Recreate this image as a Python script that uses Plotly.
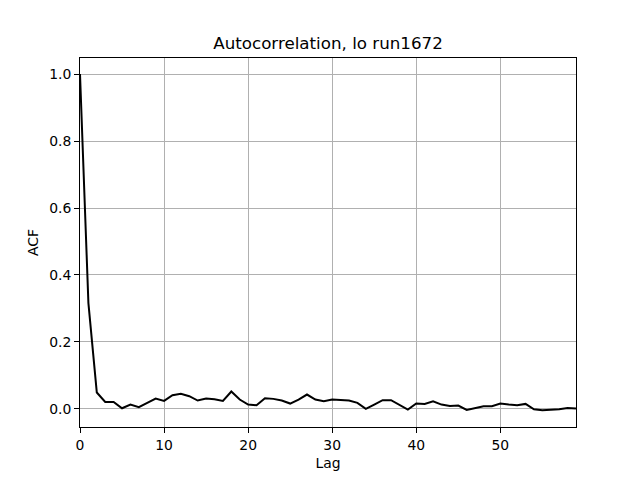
import plotly.graph_objects as go

lags = list(range(60))
acf = [1.0, 0.316, 0.049, 0.021, 0.021, 0.002, 0.013, 0.005, 0.018, 0.031,
       0.024, 0.041, 0.045, 0.038, 0.025, 0.031, 0.029, 0.024, 0.052, 0.028,
       0.013, 0.011, 0.032, 0.030, 0.025, 0.016, 0.028, 0.043, 0.028, 0.023,
       0.028, 0.027, 0.025, 0.018, 0.000, 0.013, 0.026, 0.026, 0.012, -0.002,
       0.016, 0.015, 0.023, 0.013, 0.009, 0.010, -0.003, 0.002, 0.008, 0.008,
       0.016, 0.013, 0.011, 0.015, -0.001, -0.004, -0.003, -0.001, 0.003, 0.001]
x_ticks = [0, 10, 20, 30, 40, 50]
y_ticks = [0.0, 0.2, 0.4, 0.6, 0.8, 1.0]

fig = go.Figure()
fig.add_trace(go.Scatter(x=lags, y=acf, mode="lines",
                         line=dict(color="black", width=2), showlegend=False))

axis_common = dict(showline=True, linecolor="black", linewidth=1, mirror=True,
                   ticks="outside", ticklen=5, tickwidth=1, tickcolor="black",
                   showgrid=True, gridcolor="#b0b0b0", gridwidth=1, zeroline=False,
                   automargin=False,
                   tickfont=dict(family="DejaVu Sans", size=13.9, color="black"))

# the page body adds an 8px offset; margins compensate for it
fig.update_layout(
    width=640, height=480,
    margin=dict(l=72, r=72, t=50, b=61, autoexpand=False),
    paper_bgcolor="white", plot_bgcolor="white",
    font=dict(family="DejaVu Sans", color="black"),
    title=dict(text="Autocorrelation, lo run1672", x=0.5, xanchor="center",
               y=1 - 35 / 480, yanchor="middle", automargin=False,
               font=dict(family="DejaVu Sans", size=16.7, color="black")),
    xaxis=dict(range=[0, 59], tickvals=x_ticks, ticktext=[str(t) for t in x_ticks],
               title=dict(text="Lag", font=dict(size=13.9), standoff=6), **axis_common),
    yaxis=dict(range=[-0.054, 1.048], tickvals=y_ticks,
               ticktext=[f"{t:.1f}" for t in y_ticks],
               title=dict(text="ACF", font=dict(size=13.9), standoff=7), **axis_common),
)

fig.write_html("out.html")
